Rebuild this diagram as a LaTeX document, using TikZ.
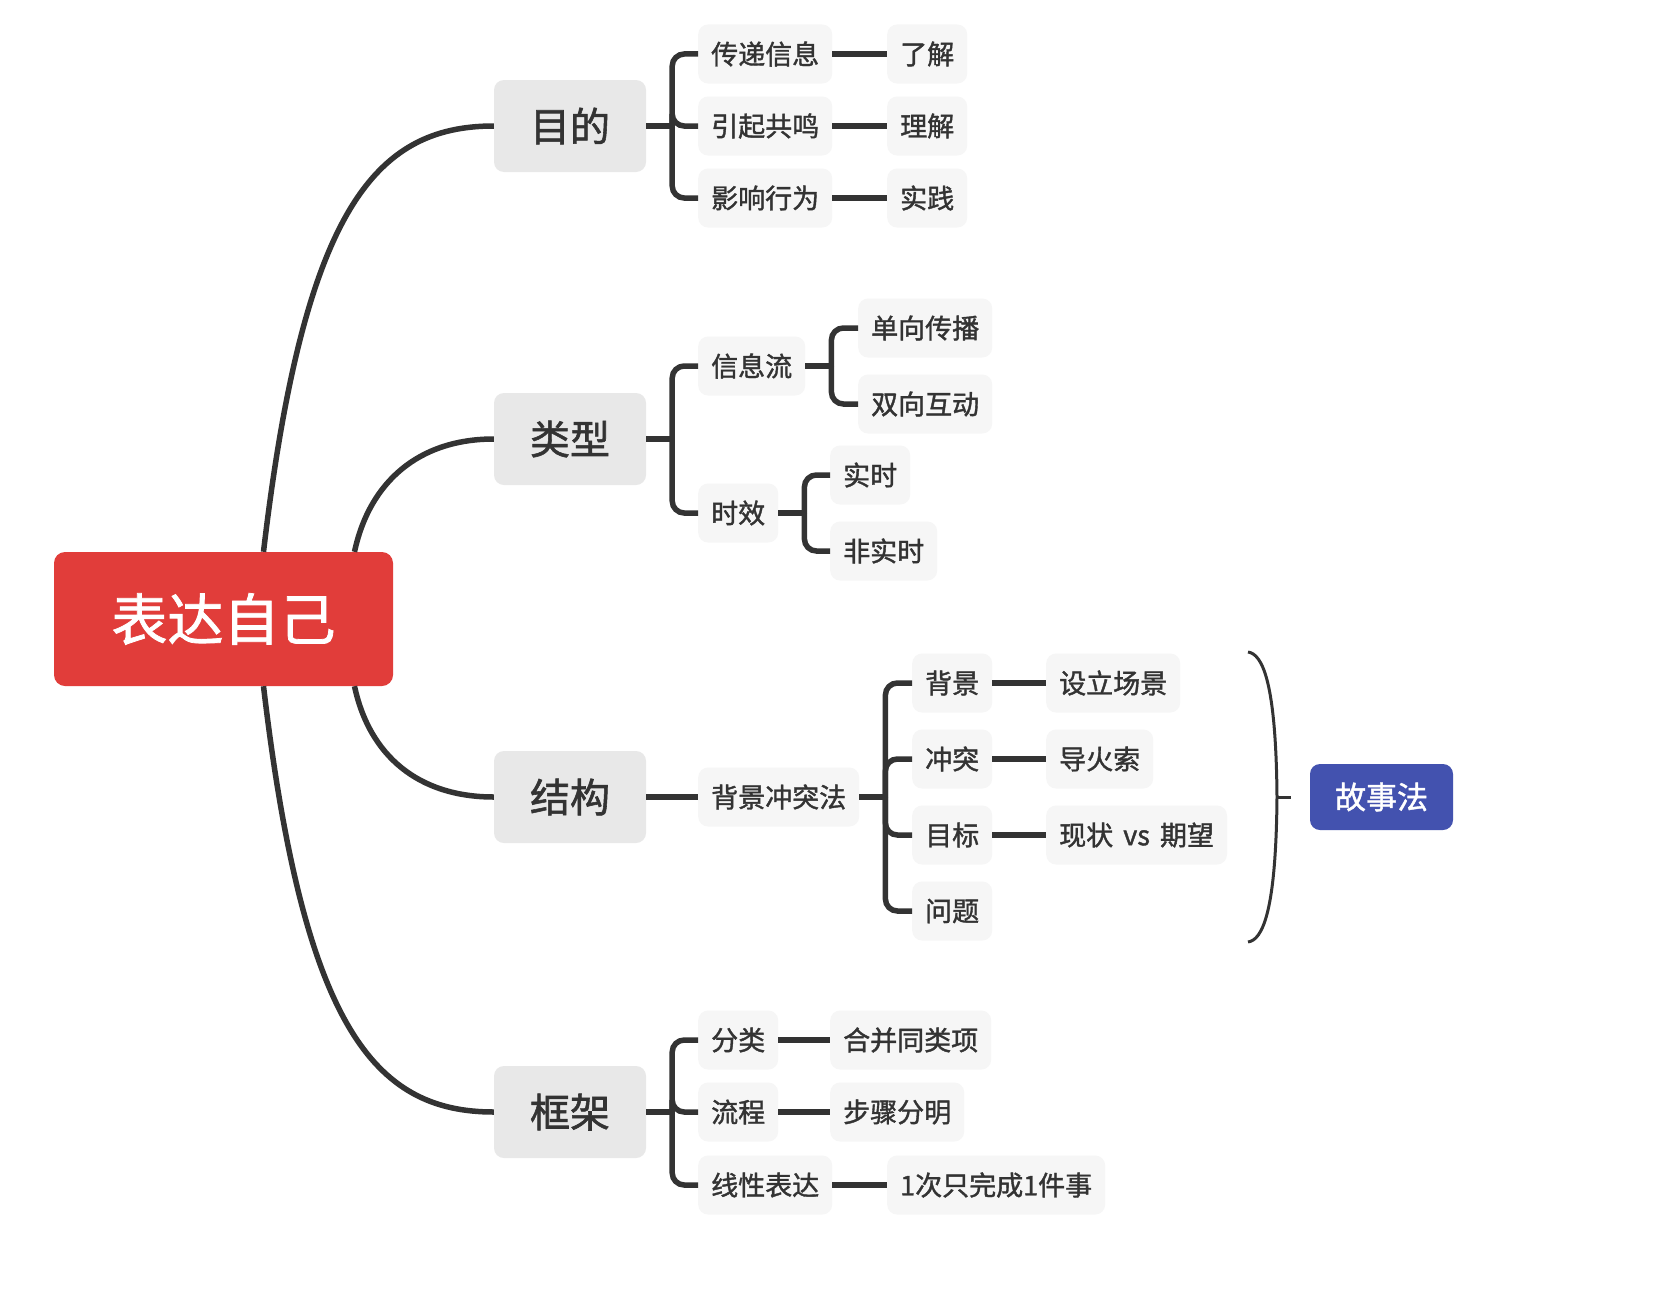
\documentclass[tikz,border=0pt]{standalone}
\usepackage{fontspec}
\setmainfont{Noto Sans CJK SC}[FakeBold=1.4]
\usepackage{tikz}
\definecolor{rootred}{RGB}{225,61,58}
\definecolor{topicgray}{RGB}{232,232,232}
\definecolor{subgray}{RGB}{246,246,246}
\definecolor{linegray}{RGB}{51,51,51}
\definecolor{textgray}{RGB}{51,51,51}
\definecolor{storyblue}{RGB}{67,82,175}
\tikzset{rootbox/.style={fill=rootred, text=white, rounded corners=11pt,
         minimum width=339pt, minimum height=134pt,
         font=\fontsize{56}{60}\selectfont}}
\tikzset{topic/.style={fill=topicgray, text=textgray, rounded corners=10pt,
         minimum width=152pt, minimum height=92pt,
         font=\fontsize{40}{44}\selectfont}}
\tikzset{sub/.style={fill=subgray, text=textgray, rounded corners=10pt,
         minimum height=59pt, inner xsep=13pt, anchor=west,
         font=\fontsize{27}{30}\selectfont}}
\tikzset{story/.style={fill=storyblue, text=white, rounded corners=10pt,
         minimum width=143pt, minimum height=66pt,
         font=\fontsize{31}{34}\selectfont}}
\tikzset{branch/.style={draw=linegray, line width=5.5pt}}
\tikzset{fork/.style={branch, rounded corners=12pt}}

\begin{document}
\begin{tikzpicture}[x=1pt, y=-1pt]
\path [use as bounding box, fill=white] (0,0) rectangle (1680,1298);

% main topics
\node [rootbox] (root) at (223.5,619) {表达自己};
\node [topic] (mudi) at (570,126) {目的};
\node [topic] (leixing) at (570,439) {类型};
\node [topic] (jiegou) at (570,797) {结构};
\node [topic] (kuangjia) at (570,1112) {框架};

\draw [branch] ([xshift=40pt]root.north) .. controls +(40,-340) and +(-120,0) .. (mudi.west);
\draw [branch] ([xshift=131pt]root.north) .. controls +(15,-70) and +(-75,0) .. (leixing.west);
\draw [branch] ([xshift=131pt]root.south) .. controls +(15,70) and +(-75,0) .. (jiegou.west);
\draw [branch] ([xshift=40pt]root.south) .. controls +(40,340) and +(-120,0) .. (kuangjia.west);

% 目的
\node [sub] (chuandi) at (698,54) {传递信息};
\node [sub] (yinqi) at (698,126) {引起共鸣};
\node [sub] (yingxiang) at (698,198) {影响行为};
\node [sub] (liaojie) at (887,54) {了解};
\node [sub] (lijie) at (887,126) {理解};
\node [sub] (shijian) at (887,198) {实践};
\draw [branch] (mudi.east) -- ++(26,0) coordinate (mudi-fork);
\draw [fork] (mudi-fork) |- (chuandi.west);
\draw [fork] (mudi-fork) |- (yinqi.west);
\draw [fork] (mudi-fork) |- (yingxiang.west);
\draw [branch] (chuandi.east) -- (liaojie.west);
\draw [branch] (yinqi.east) -- (lijie.west);
\draw [branch] (yingxiang.east) -- (shijian.west);

% 类型
\node [sub] (xinxiliu) at (698,366) {信息流};
\node [sub] (shixiao) at (698,513) {时效};
\node [sub] (danxiang) at (858,328) {单向传播};
\node [sub] (shuangxiang) at (858,404) {双向互动};
\node [sub] (shishi) at (830,475) {实时};
\node [sub] (feishishi) at (830,551) {非实时};
\draw [branch] (leixing.east) -- ++(26,0) coordinate (leixing-fork);
\draw [fork] (leixing-fork) |- (xinxiliu.west);
\draw [fork] (leixing-fork) |- (shixiao.west);
\draw [branch] (xinxiliu.east) -- ++(26,0) coordinate (xinxiliu-fork);
\draw [fork] (xinxiliu-fork) |- (danxiang.west);
\draw [fork] (xinxiliu-fork) |- (shuangxiang.west);
\draw [branch] (shixiao.east) -- ++(26,0) coordinate (shixiao-fork);
\draw [fork] (shixiao-fork) |- (shishi.west);
\draw [fork] (shixiao-fork) |- (feishishi.west);

% 结构
\node [sub] (beijingfa) at (698,797) {背景冲突法};
\node [sub] (beijing) at (912,683) {背景};
\node [sub] (chongtu) at (912,759) {冲突};
\node [sub] (mubiao) at (912,835) {目标};
\node [sub] (wenti) at (912,911) {问题};
\node [sub] (sheli) at (1046,683) {设立场景};
\node [sub] (daohuo) at (1046,759) {导火索};
\node [sub] (xianzhuang) at (1046,835) {现状\hspace{4pt} vs\hspace{4pt} 期望};
\draw [branch] (jiegou.east) -- (beijingfa.west);
\draw [branch] (beijingfa.east) -- ++(26,0) coordinate (beijingfa-fork);
\draw [fork] (beijingfa-fork) |- (beijing.west);
\draw [fork] (beijingfa-fork) |- (chongtu.west);
\draw [fork] (beijingfa-fork) |- (mubiao.west);
\draw [fork] (beijingfa-fork) |- (wenti.west);
\draw [branch] (beijing.east) -- (sheli.west);
\draw [branch] (chongtu.east) -- (daohuo.west);
\draw [branch] (mubiao.east) -- (xianzhuang.west);

% summary brace
\node [story] (gushi) at (1381.5,797) {故事法};
\coordinate (brace-mid) at (1277,797);
\draw [draw=linegray, line width=3pt] (1248,652) .. controls (1262,654) and (1276,680) .. (brace-mid)
      .. controls (1276,914) and (1262,940) .. (1248,942);
\draw [draw=linegray, line width=3pt] (brace-mid) -- ++(14,0);

% 框架
\node [sub] (fenlei) at (698,1040) {分类};
\node [sub] (liucheng) at (698,1112) {流程};
\node [sub] (xianxing) at (698,1185) {线性表达};
\node [sub] (hebing) at (830,1040) {合并同类项};
\node [sub] (buzhou) at (830,1112) {步骤分明};
\node [sub] (yici) at (887,1185) {1次只完成1件事};
\draw [branch] (kuangjia.east) -- ++(26,0) coordinate (kuangjia-fork);
\draw [fork] (kuangjia-fork) |- (fenlei.west);
\draw [fork] (kuangjia-fork) |- (liucheng.west);
\draw [fork] (kuangjia-fork) |- (xianxing.west);
\draw [branch] (fenlei.east) -- (hebing.west);
\draw [branch] (liucheng.east) -- (buzhou.west);
\draw [branch] (xianxing.east) -- (yici.west);
\end{tikzpicture}
\end{document}
